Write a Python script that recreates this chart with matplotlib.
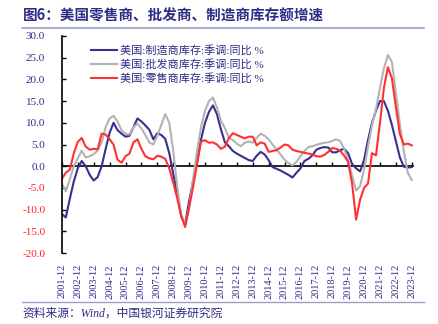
import numpy as np
import pandas as pd
import matplotlib
matplotlib.use("Agg")
import matplotlib.pyplot as plt
from matplotlib.lines import Line2D

plt.rcParams['font.family'] = ['Liberation Serif', 'Noto Sans CJK SC', 'DejaVu Sans']
plt.rcParams['axes.unicode_minus'] = False

# quarterly points, 2001-12 .. 2023-12
dates = pd.date_range("2001-12-01", periods=89, freq="3MS")

manufacturing = [
    -11.0, -11.8, -7.5, -3.5, -0.5, 1.2, 0.0, -2.0, -3.3, -2.5,
    0.0, 4.0, 7.7, 10.0, 8.3, 7.5, 6.8, 7.0, 9.0, 11.0,
    10.3, 9.4, 8.4, 6.2, 7.6, 7.2, 6.3, 3.0, -1.8, -6.0,
    -11.5, -13.3, -8.0, -3.5, 1.0, 6.2, 10.0, 12.5, 14.0, 12.0,
    8.5, 5.5, 4.6, 3.5, 2.9, 2.4, 1.9, 1.4, 1.2, 2.4,
    3.3, 2.7, 1.4, -0.2, -0.6, -1.0, -1.5, -2.0, -2.6, -1.5,
    -0.5, 1.2, 1.7, 2.5, 3.8, 4.2, 4.4, 4.3, 3.2, 3.2,
    3.7, 4.0, 3.0, 0.5, -0.5, -1.2, 1.5, 6.0, 10.0, 12.8,
    15.0, 15.0, 12.8, 9.5, 5.8, 2.1, -0.1, -0.3, -0.2,
]
wholesale = [
    -4.0, -5.8, -3.0, 0.0, 1.8, 3.6, 2.0, 2.3, 2.8, 3.6,
    5.5, 9.0, 11.0, 11.6, 10.3, 8.3, 7.5, 7.3, 9.0, 9.8,
    8.7, 7.2, 5.5, 5.0, 7.0, 9.5, 12.0, 10.0, 3.5, -4.5,
    -11.0, -13.5, -9.5, -3.0, 3.5, 9.0, 12.8, 15.0, 15.8, 13.5,
    10.5, 8.8, 6.6, 6.0, 5.2, 4.6, 5.4, 5.7, 5.4, 6.5,
    7.5, 7.0, 6.2, 5.0, 3.8, 2.7, 1.5, 0.7, 0.2, 1.0,
    2.3, 3.5, 4.4, 4.6, 4.9, 5.2, 5.4, 5.5, 5.8, 6.2,
    5.8, 4.0, 1.4, -2.2, -5.6, -4.6, -0.8, 4.5, 9.5, 13.2,
    18.0, 22.5, 25.6, 24.0, 17.0, 9.8, 3.5, -1.5, -3.2,
]
retail = [
    -2.9, -1.5, -0.8, 3.0, 5.6, 6.5, 4.5, 3.8, 4.0, 3.9,
    7.5, 7.3, 6.2, 5.0, 1.5, 0.8, 2.3, 2.9, 5.5, 6.2,
    4.0, 2.3, 1.8, 1.6, 2.4, 2.2, 1.7, -0.5, -3.8, -7.3,
    -11.5, -14.0, -9.5, -4.8, 0.5, 5.7, 6.0, 5.4, 5.5, 5.0,
    4.0, 4.5, 6.5, 7.6, 7.2, 6.8, 6.4, 6.8, 6.8, 4.8,
    5.5, 5.2, 3.3, 3.5, 3.7, 4.3, 5.0, 4.8, 3.8, 3.5,
    3.3, 3.1, 2.9, 2.7, 2.3, 2.2, 2.6, 3.3, 4.2, 4.0,
    3.6, 2.4, 1.0, -4.0, -12.3, -7.7, -5.0, -4.0, 3.0, 2.5,
    10.0, 18.0, 22.8, 20.3, 13.7, 7.5, 5.0, 5.2, 4.8,
]

labels = ["美国:制造商库存:季调:同比 %", "美国:批发商库存:季调:同比 %", "美国:零售商库存:季调:同比 %"]
colors = ["#3B2E90", "#B3B3B3", "#FF3030"]
yticks = np.arange(-20, 31, 5)

NAVY = "#2E2C86"

fig = plt.figure(figsize=(4.39, 3.24), dpi=100)
ax = fig.add_axes([0.141, 0.219, 0.800, 0.670])

for vals, lab, c in zip([manufacturing, wholesale, retail], labels, colors):
    ax.plot(dates, vals, color=c, lw=1.5, label=lab)

ax.set_ylim(-20, 30)
ax.set_xlim(pd.Timestamp("2001-12-01"), pd.Timestamp("2024-01-01"))
ax.set_yticks(yticks)
ax.set_yticklabels([f"{v:.1f}" for v in yticks], fontsize=8)
for t, v in zip(ax.get_yticklabels(), yticks):
    t.set_color("#FF2020" if v < 0 else NAVY)
ax.tick_params(axis="y", direction="in", length=3, width=1, pad=12)

for s in ["top", "right", "bottom"]:
    ax.spines[s].set_visible(False)
ax.spines["left"].set_linewidth(1.2)

xt = pd.date_range("2001-12-01", "2023-12-01", freq="12MS")
ax.set_xticks(xt)
ax.set_xticklabels([d.strftime("%Y-%m") for d in xt], rotation=90, fontsize=7.5, color=NAVY)
ax.tick_params(axis="x", length=0, pad=8)

# zero line with year ticks
sec = ax.secondary_xaxis(0.4)
sec.set_xticks(xt)
sec.set_xticklabels([])
sec.tick_params(axis="x", direction="in", length=3, width=1)
sec.spines["bottom"].set_linewidth(1.2)

leg = ax.legend(loc="upper left", bbox_to_anchor=(0.065, 0.99), frameon=False,
                fontsize=8, handlelength=2.3, handletextpad=0.3,
                labelspacing=0.3, borderaxespad=0.2)
for t in leg.get_texts():
    t.set_color(NAVY)

fig.text(0.052, 0.953, "图6：美国零售商、批发商、制造商库存额增速", fontsize=10.5,
         fontweight="bold", color=NAVY, va="center", family=["Noto Sans CJK SC"])
fig.add_artist(Line2D([0.05, 0.965], [0.913, 0.913], color="#9C9CD0", lw=1.2))
fig.add_artist(Line2D([0.05, 0.965], [0.068, 0.068], color="#9C9CD0", lw=1.0))
fig.text(0.052, 0.033, "资料来源：Wind，中国银河证券研究院", fontsize=8.5,
         color=NAVY, style="italic", va="center")

fig.savefig("out.png", dpi=100)
